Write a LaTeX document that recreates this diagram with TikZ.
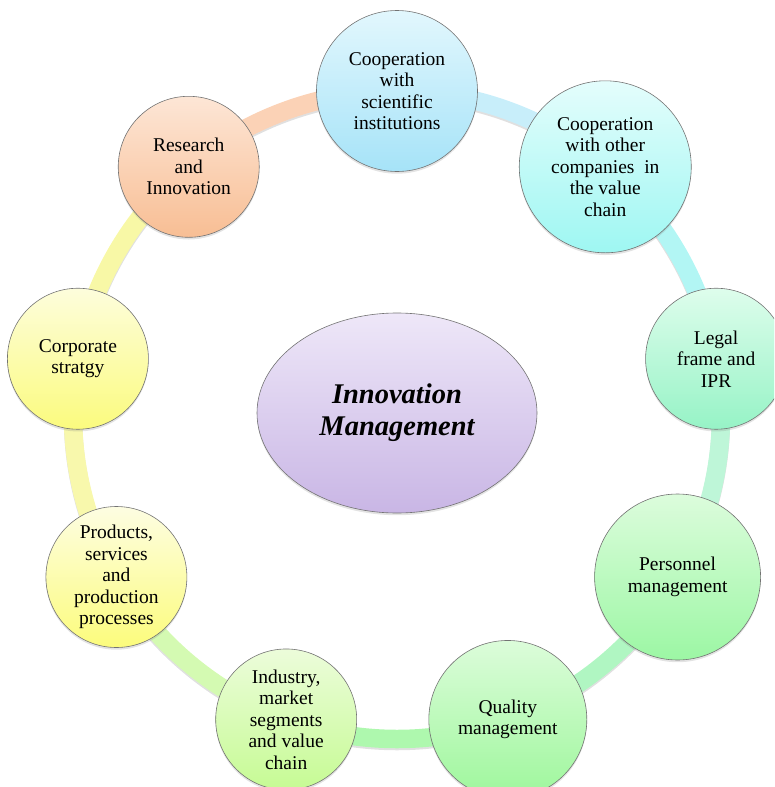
\documentclass[tikz,border=0pt]{standalone}
\usepackage{fontspec}
\setmainfont{Liberation Serif}
\usetikzlibrary{shadows,calc,shapes.geometric}

% ring segment colours
\definecolor{segA}{HTML}{C8EEFA}
\definecolor{segB}{HTML}{B2F6F4}
\definecolor{segC}{HTML}{BEF6D8}
\definecolor{segD}{HTML}{B0F6C2}
\definecolor{segE}{HTML}{AEF8AE}
\definecolor{segF}{HTML}{D4FAB2}
\definecolor{segG}{HTML}{F8F8AC}
\definecolor{segH}{HTML}{F8F8A6}
\definecolor{segI}{HTML}{FBD2B6}
% bubble gradients (top / bottom)
\definecolor{aT}{HTML}{E2F7FD}\definecolor{aB}{HTML}{A6E3F8}
\definecolor{bT}{HTML}{E4FDFC}\definecolor{bB}{HTML}{9EF7F2}
\definecolor{cT}{HTML}{DEFDEC}\definecolor{cB}{HTML}{96F3C6}
\definecolor{dT}{HTML}{DCFCDC}\definecolor{dB}{HTML}{9CF7A4}
\definecolor{eT}{HTML}{DCFCDA}\definecolor{eB}{HTML}{9EF79C}
\definecolor{fT}{HTML}{ECFCDA}\definecolor{fB}{HTML}{C6FB94}
\definecolor{gT}{HTML}{FDFDE2}\definecolor{gB}{HTML}{FCFC7C}
\definecolor{hT}{HTML}{FDFDDC}\definecolor{hB}{HTML}{FBFB7E}
\definecolor{iT}{HTML}{FDE6D6}\definecolor{iB}{HTML}{F8BE94}
\definecolor{hubT}{HTML}{EEE7F8}\definecolor{hubB}{HTML}{C9B6E5}

\tikzset{
  ringseg/.style={line width=18.5pt, line cap=butt},
  segshadow/.style={line width=18.5pt, draw=black, opacity=0.12},
  bubble/.style={circle, draw=black!55, line width=0.6pt, align=center,
    inner sep=0pt, font=\fontsize{19.5}{21.5}\selectfont,
    drop shadow={opacity=0.22, shadow xshift=0pt, shadow yshift=-2.2pt}},
  hub/.style={ellipse, draw=black!55, line width=0.6pt, align=center,
    minimum width=280pt, minimum height=200pt, inner sep=0pt,
    top color=hubT, bottom color=hubB,
    font=\fontsize{28.5}{32}\selectfont\bfseries\itshape,
    drop shadow={opacity=0.22, shadow xshift=0pt, shadow yshift=-2.2pt}}
}

\begin{document}
\begin{tikzpicture}[x=1pt,y=1pt]
\useasboundingbox (0,0) rectangle (774,-787);
\begin{scope}
\clip (0,0) rectangle (774,-787);

\coordinate (O) at (397,-415);

% positions of the nine bubbles on the ring
\foreach \k in {1,...,9}{
  \coordinate (p\k) at ($(O)+({90-40*(\k-1)}:324)$);
}

% ring segments with a faint shadow
\foreach \k/\c [evaluate=\k as \a using {90-40*(\k-1)}] in
  {1/segA,2/segB,3/segC,4/segD,5/segE,6/segF,7/segG,8/segH,9/segI}{
  \draw[segshadow] ([yshift=-2pt]p\k) arc[start angle=\a, delta angle=-40, radius=324];
  \draw[ringseg, draw=\c] (p\k) arc[start angle=\a, delta angle=-40, radius=324];
}

% central ellipse
\node[hub] (hub) at (397,-413) {Innovation\\Management};

% bubbles
\node[bubble, minimum size=161pt, top color=aT, bottom color=aB]
  (n1) at (p1) {Cooperation\\with\\scientific\\institutions};
\node[bubble, minimum size=172pt, top color=bT, bottom color=bB]
  (n2) at (p2) {Cooperation\\with other\\companies\ \ in\\the value\\chain};
\node[bubble, minimum size=141pt, top color=cT, bottom color=cB]
  (n3) at (p3) {Legal\\frame and\\IPR};
\node[bubble, minimum size=166pt, top color=dT, bottom color=dB]
  (n4) at (p4) {Personnel\\management};
\node[bubble, minimum size=158pt, top color=eT, bottom color=eB]
  (n5) at (p5) {Quality\\management};
\node[bubble, minimum size=141pt, top color=fT, bottom color=fB]
  (n6) at (p6) {Industry,\\market\\segments\\and value\\chain};
\node[bubble, minimum size=141pt, top color=gT, bottom color=gB]
  (n7) at (p7) {Products,\\services\\and\\production\\processes};
\node[bubble, minimum size=141pt, top color=hT, bottom color=hB]
  (n8) at (p8) {Corporate\\stratgy};
\node[bubble, minimum size=141pt, top color=iT, bottom color=iB]
  (n9) at (p9) {Research\\and\\Innovation};
\end{scope}
\end{tikzpicture}
\end{document}
